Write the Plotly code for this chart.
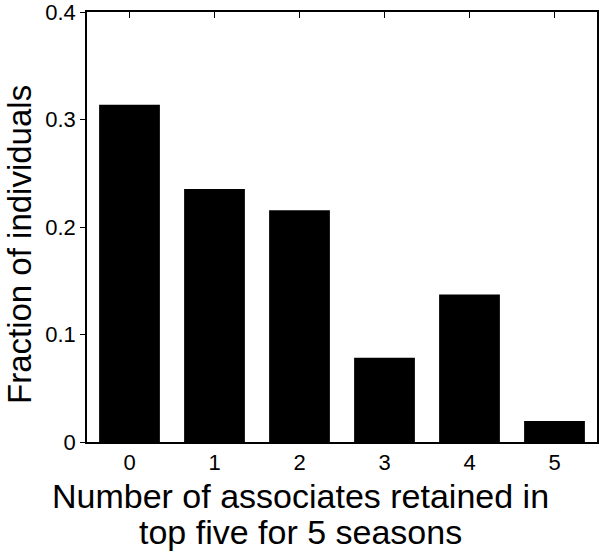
import plotly.graph_objects as go

categories = [0, 1, 2, 3, 4, 5]
fractions = [16/51, 12/51, 11/51, 4/51, 7/51, 1/51]
y_ticks = [0, 0.1, 0.2, 0.3, 0.4]
y_tick_labels = ["0", "0.1", "0.2", "0.3", "0.4"]
x_title_lines = ["Number of associates retained in", "top five for 5 seasons"]
y_title = "Fraction of individuals"

L, R, T, B = 87, 3, 12, 114
W, H = 600, 556
pw, ph = W - L - R, H - T - B

def px_x(X):
    return (X - L) / pw

def px_y(Y):
    return (H - B - Y) / ph

fig = go.Figure(go.Bar(x=categories, y=fractions, marker=dict(color="black", line=dict(width=0)), width=0.715))

fig.update_layout(
    width=W, height=H,
    margin=dict(l=L, r=R, t=T, b=B),
    plot_bgcolor="white", paper_bgcolor="white",
    font=dict(family="Liberation Sans, Arial", color="black"),
    showlegend=False,
)
fig.update_xaxes(
    range=[-0.5, 5.5], tickvals=categories, ticktext=[str(c) for c in categories],
    ticks="inside", ticklen=6, tickcolor="black", mirror="ticks",
    showline=True, linecolor="black", linewidth=1.5, showgrid=False, zeroline=False,
    tickfont=dict(size=22), automargin=False,
)
fig.update_yaxes(
    range=[0, 0.4], tickvals=y_ticks, ticktext=y_tick_labels,
    ticks="outside", ticklen=5, tickcolor="black", mirror=True,
    showline=True, linecolor="black", linewidth=1.5, showgrid=False, zeroline=False,
    tickfont=dict(size=22), automargin=False, ticklabeloverflow="allow",
)
for text, Y in zip(x_title_lines, [496, 532]):
    fig.add_annotation(text=text, xref="paper", yref="paper", x=px_x(300), y=px_y(Y),
                       xanchor="center", yanchor="middle", showarrow=False, font=dict(size=34))
fig.add_annotation(text=y_title, xref="paper", yref="paper", x=px_x(19), y=px_y(245),
                   xanchor="center", yanchor="middle", textangle=-90, showarrow=False, font=dict(size=33))
fig.write_html("out.html", config={"displayModeBar": False},
               post_script="document.body.style.margin='0';document.body.style.overflow='hidden';")
